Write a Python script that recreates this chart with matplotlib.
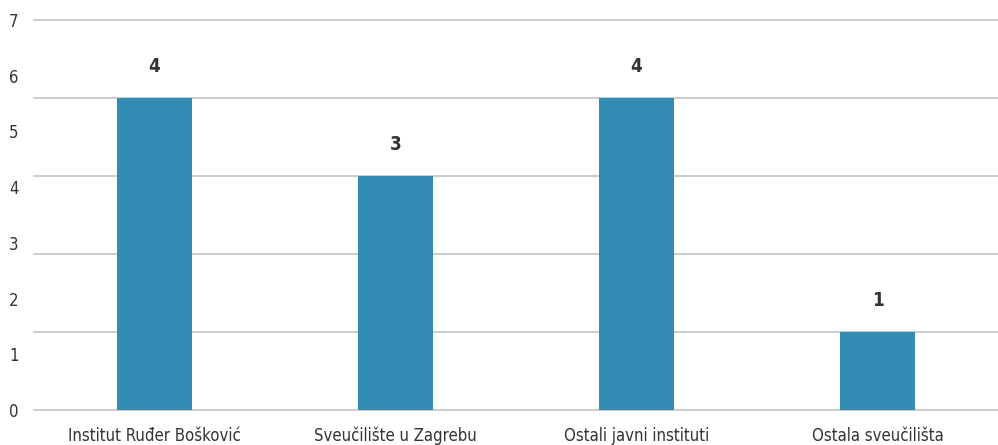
import numpy as np
import matplotlib.pyplot as plt

categories = ['Institut Ruđer Bošković', 'Sveučilište u Zagrebu',
              'Ostali javni instituti', 'Ostala sveučilišta']
values = [4, 3, 4, 1]
axis_labels = ['0', '1', '2', '3', '4', '5', '6', '7']

plt.rcParams['font.family'] = ['DejaVu Sans']
plt.rcParams['font.stretch'] = 'condensed'

fig = plt.figure(figsize=(9.98, 4.45), dpi=100)
ax = fig.add_axes([0.034, 0.0787, 0.966, 0.8765])

x = np.arange(len(categories))
bars = ax.bar(x, values, width=0.31, color='#318bb3', zorder=3)

for rect, v in zip(bars, values):
    ax.annotate(str(v), (rect.get_x() + rect.get_width() / 2, v),
                xytext=(0, 23), textcoords='offset points',
                ha='center', va='center', fontsize=13.5, fontweight='bold',
                color='#333333')

ax.set_xlim(-0.5, len(categories) - 0.5)
ax.set_ylim(0, 5)

# gridlines on whole units, tick labels spread over the same span
for g in np.arange(0, 6):
    ax.axhline(g, color='#c4c4c4', linewidth=1.2, zorder=0, clip_on=False)
ax.set_yticks(np.linspace(0, 5, len(axis_labels)))
ax.set_yticklabels(axis_labels, fontsize=12, color='#333333')
ax.tick_params(axis='y', length=0, pad=11)

ax.set_xticks(x)
ax.set_xticklabels(categories, fontsize=12, color='#333333')
ax.tick_params(axis='x', length=0, pad=12)

for s in ax.spines.values():
    s.set_visible(False)

fig.savefig('out.png', dpi=100)
